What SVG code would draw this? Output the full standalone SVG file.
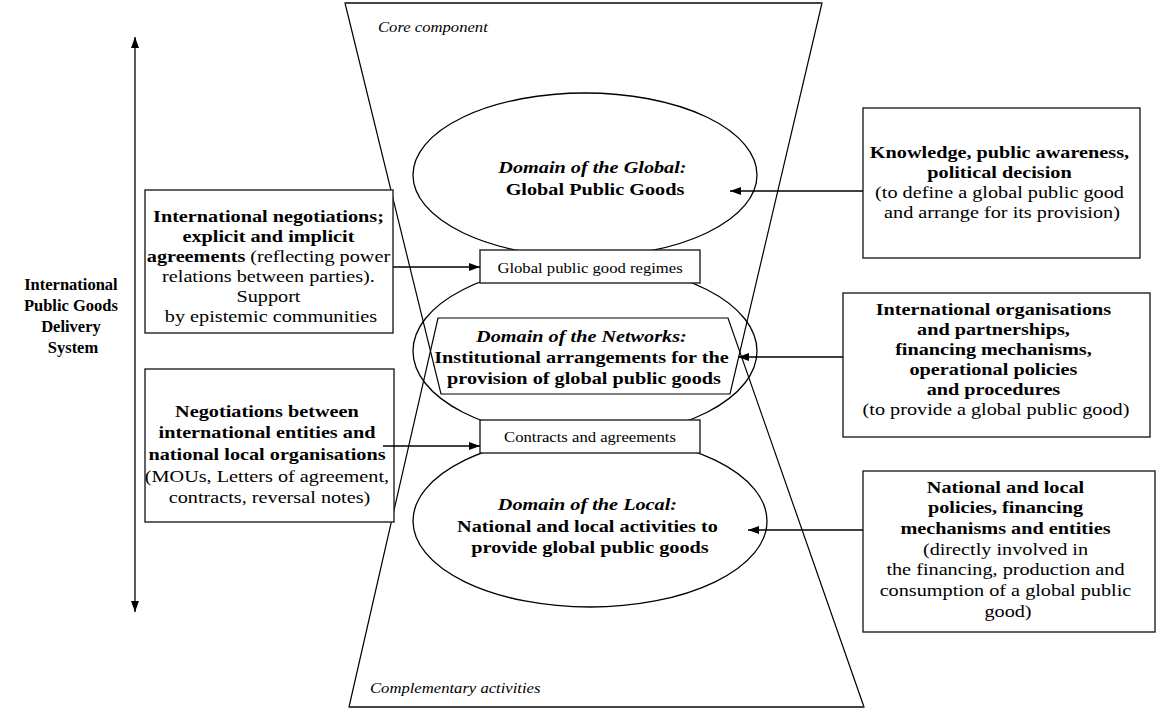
<svg xmlns="http://www.w3.org/2000/svg" width="1157" height="710" viewBox="0 0 1157 710">
  <style>
    .t { font-family: "Liberation Serif", "Times New Roman", serif; fill: #000; }
    .bx { font-size: 17.6px; }
    .sm { font-size: 15px; }
    .b { font-weight: bold; }
    .i { font-style: italic; }
    .box { fill: #fff; stroke: #222; stroke-width: 1.4; }
    .ell { fill: #fff; stroke: #000; stroke-width: 1.3; }
    .edge { fill: none; stroke: #000; stroke-width: 1.2; }
    .conn { fill: none; stroke: #000; stroke-width: 1.3; }
  </style>
  <defs>
    <marker id="ah" markerWidth="11" markerHeight="8" refX="11" refY="4" orient="auto-start-reverse" markerUnits="userSpaceOnUse">
      <path d="M0,0 L11,4 L0,8 z" fill="#000"/>
    </marker>
  </defs>

  <rect width="1157" height="710" fill="#fff"/>

  <!-- domain ellipses -->
  <g id="domain-global">
    <ellipse class="ell" cx="585" cy="175" rx="172" ry="82"/>
  </g>
  <g id="domain-networks">
    <ellipse class="ell" cx="585" cy="351" rx="172" ry="87"/>
  </g>
  <g id="domain-local">
    <ellipse class="ell" cx="590" cy="521" rx="177" ry="86"/>
  </g>

  <!-- hourglass: two overlapping trapezoids, their overlap forms the hexagon -->
  <g id="hourglass">
    <polygon class="edge" points="345,3 822,3 730,394 441,394"/>
    <polygon class="edge" points="349,707 864,707 728,318 438,318"/>
    <line x1="345" y1="3" x2="822" y2="3" stroke="#444" stroke-width="2.2"/>
    <line x1="349" y1="707" x2="864" y2="707" stroke="#444" stroke-width="2.2"/>
  </g>

  <g id="label-core">
    <g transform="translate(378 0) scale(1.11 1)">
      <text class="t sm i" x="0" y="32">Core component</text>
    </g>
  </g>
  <g id="label-complementary">
    <g transform="translate(370 0) scale(1.11 1)">
      <text class="t sm i" x="0" y="693">Complementary activities</text>
    </g>
  </g>

  <!-- ellipse texts -->
  <g id="text-global" transform="translate(595 0) scale(1.15 1)">
    <text class="t bx b" text-anchor="middle">
      <tspan x="0" y="173" class="i">Domain of the Global:</tspan>
      <tspan x="0" y="195">Global Public Goods</tspan>
    </text>
  </g>
  <g id="text-networks" transform="translate(584 0) scale(1.15 1)">
    <text class="t bx b" text-anchor="middle">
      <tspan x="0" y="342" class="i">Domain of the Networks:</tspan>
      <tspan x="0" y="363">Institutional arrangements for the</tspan>
      <tspan x="0" y="384">provision of global public goods</tspan>
    </text>
  </g>
  <g id="text-local" transform="translate(590 0) scale(1.15 1)">
    <text class="t bx b" text-anchor="middle">
      <tspan x="0" y="510" class="i">Domain of the Local:</tspan>
      <tspan x="0" y="532">National and local activities to</tspan>
      <tspan x="0" y="553">provide global public goods</tspan>
    </text>
  </g>

  <!-- regime and contract boxes -->
  <g id="regimes">
    <rect class="box" x="480" y="250" width="220" height="33"/>
    <g transform="translate(590 0) scale(1.11 1)">
      <text class="t sm" text-anchor="middle" x="0" y="273">Global public good regimes</text>
    </g>
  </g>
  <g id="contracts">
    <rect class="box" x="480" y="420" width="220" height="33"/>
    <g transform="translate(590 0) scale(1.11 1)">
      <text class="t sm" text-anchor="middle" x="0" y="442">Contracts and agreements</text>
    </g>
  </g>

  <!-- left side -->
  <g id="delivery-system">
    <text class="t b" font-size="16.5" text-anchor="middle">
      <tspan x="73" y="290">International</tspan>
      <tspan x="73" y="311">Public Goods</tspan>
      <tspan x="73" y="332">Delivery</tspan>
      <tspan x="73" y="353">System</tspan>
    </text>
  </g>

  <g id="negotiations">
    <rect class="box" x="145" y="190" width="248" height="143"/>
    <g transform="translate(271 0) scale(1.15 1)">
      <text class="t bx" text-anchor="middle">
        <tspan x="0" y="222" class="b">International negotiations;</tspan>
        <tspan x="0" y="242" class="b">explicit and implicit</tspan>
        <tspan x="0" y="262"><tspan class="b">agreements</tspan> (reflecting power</tspan>
        <tspan x="0" y="282">relations between parties).</tspan>
        <tspan x="0" y="302">Support</tspan>
        <tspan x="0" y="322">by epistemic communities</tspan>
      </text>
    </g>
  </g>

  <g id="local-negotiations">
    <rect class="box" x="145" y="369" width="249" height="153"/>
    <g transform="translate(269.5 0) scale(1.15 1)">
      <text class="t bx" text-anchor="middle">
        <tspan x="0" y="417" class="b">Negotiations between</tspan>
        <tspan x="0" y="438" class="b">international entities and</tspan>
        <tspan x="0" y="460" class="b">national local organisations</tspan>
        <tspan x="0" y="482">(MOUs, Letters of agreement,</tspan>
        <tspan x="0" y="503">contracts, reversal notes)</tspan>
      </text>
    </g>
  </g>

  <!-- right side -->
  <g id="knowledge">
    <rect class="box" x="863" y="108" width="277" height="150"/>
    <g transform="translate(1002 0) scale(1.15 1)">
      <text class="t bx" text-anchor="middle">
        <tspan x="0" y="158" class="b">Knowledge, public awareness,</tspan>
        <tspan x="0" y="178" class="b">political decision</tspan>
        <tspan x="0" y="198">(to define a global public good</tspan>
        <tspan x="0" y="218">and arrange for its provision)</tspan>
      </text>
    </g>
  </g>

  <g id="organisations">
    <rect class="box" x="843" y="293" width="307" height="144"/>
    <g transform="translate(996 0) scale(1.15 1)">
      <text class="t bx" text-anchor="middle">
        <tspan x="0" y="315" class="b">International organisations</tspan>
        <tspan x="0" y="335" class="b">and partnerships,</tspan>
        <tspan x="0" y="355" class="b">financing mechanisms,</tspan>
        <tspan x="0" y="375" class="b">operational policies</tspan>
        <tspan x="0" y="395" class="b">and procedures</tspan>
        <tspan x="0" y="415">(to provide a global public good)</tspan>
      </text>
    </g>
  </g>

  <g id="national-policies">
    <rect class="box" x="863" y="471" width="292" height="161"/>
    <g transform="translate(1008 0) scale(1.15 1)">
      <text class="t bx" text-anchor="middle">
        <tspan x="0" y="493" class="b">National and local</tspan>
        <tspan x="0" y="513" class="b">policies, financing</tspan>
        <tspan x="0" y="534" class="b">mechanisms and entities</tspan>
        <tspan x="0" y="555">(directly involved in</tspan>
        <tspan x="0" y="575">the financing, production and</tspan>
        <tspan x="0" y="596">consumption of a global public</tspan>
        <tspan x="0" y="617">good)</tspan>
      </text>
    </g>
  </g>

  <!-- connectors -->
  <g id="connectors">
    <line class="conn" x1="135" y1="37" x2="135" y2="612" marker-start="url(#ah)" marker-end="url(#ah)"/>
    <line class="conn" x1="393" y1="267" x2="480" y2="267" marker-end="url(#ah)"/>
    <line class="conn" x1="383" y1="446" x2="480" y2="446" marker-end="url(#ah)"/>
    <line class="conn" x1="863" y1="191" x2="730" y2="191" marker-end="url(#ah)"/>
    <line class="conn" x1="843" y1="357" x2="738" y2="357" marker-end="url(#ah)"/>
    <line class="conn" x1="863" y1="530" x2="748" y2="530" marker-end="url(#ah)"/>
  </g>
</svg>
